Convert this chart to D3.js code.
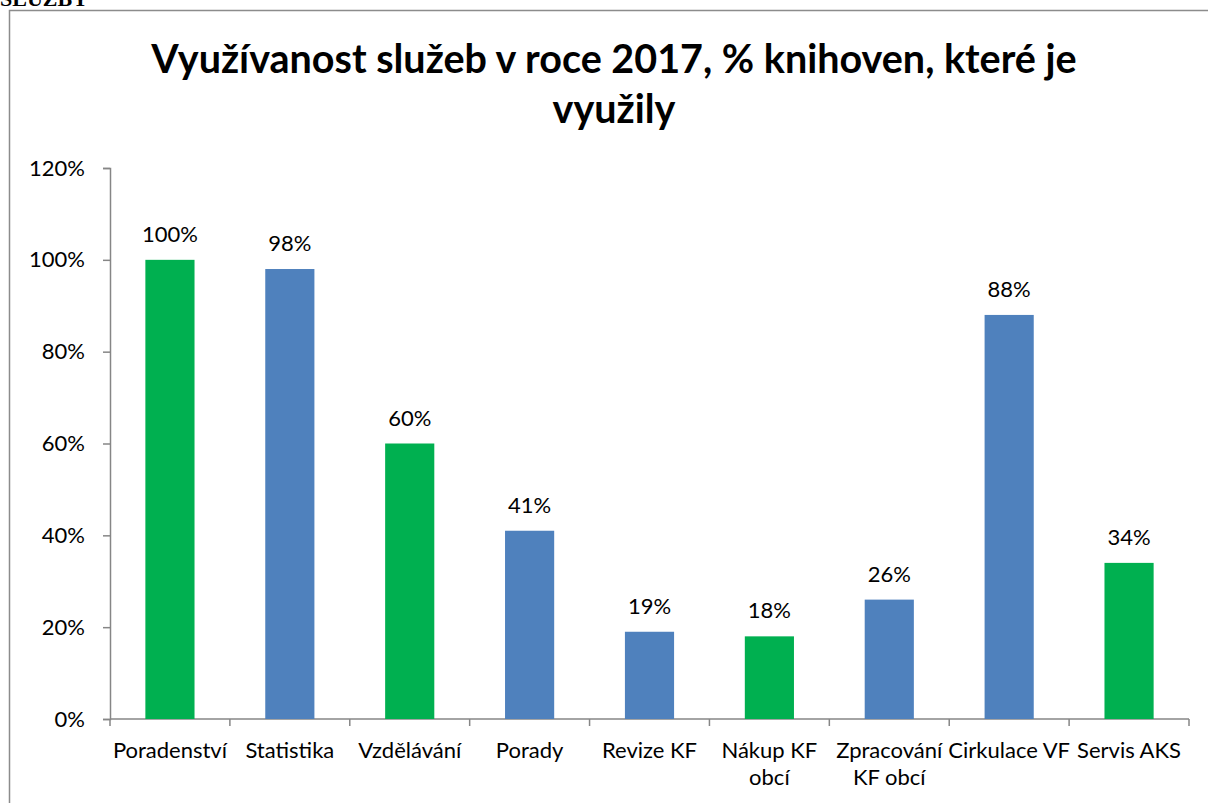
<!DOCTYPE html>
<html lang="cs">
<head>
<meta charset="utf-8">
<script src="https://d3js.org/d3.v7.min.js"></script>
<style>
  body { margin: 0; background: #fff; }
  svg { display: block; }
</style>
</head>
<body>
<svg id="chart" width="1208" height="803"></svg>
<script>
// data
var categories = ['Poradenství', 'Statistika', 'Vzdělávání', 'Porady', 'Revize KF',
  'Nákup KF obcí', 'Zpracování KF obcí', 'Cirkulace VF', 'Servis AKS'];
var values = [100, 98, 60, 41, 19, 18, 26, 88, 34];
var groups = ['g', 'b', 'g', 'b', 'b', 'g', 'b', 'b', 'g'];
var yTicks = [0, 20, 40, 60, 80, 100, 120];
var titleLines = ['Využívanost služeb v roce 2017, % knihoven, které je', 'využily'];

var colors = { g: '#00B050', b: '#4F81BD' };
var font = 'Lato, "Open Sans", sans-serif';

var svg = d3.select('#chart');

// stray heading cut at the top of the page
svg.append('text')
  .attr('x', 0).attr('y', 6)
  .style('font-family', '"Liberation Serif", serif')
  .style('font-weight', 'bold')
  .style('font-size', '22px')
  .text('SLUŽBY');

// chart frame (runs off the right and bottom edge)
svg.append('rect')
  .attr('x', 9.5).attr('y', 10.5)
  .attr('width', 1230).attr('height', 830)
  .attr('fill', 'none')
  .attr('stroke', '#8c8c8c')
  .attr('stroke-width', 1.5);

// title
svg.append('text')
  .attr('text-anchor', 'middle')
  .style('font-family', font)
  .style('font-weight', 'bold')
  .style('font-size', '39.5px')
  .selectAll('tspan')
  .data(titleLines)
  .enter()
  .append('tspan')
  .attr('x', 614)
  .attr('y', function(d, i) { return 73 + i * 50; })
  .text(function(d) { return d; });

var x = d3.scaleBand()
  .domain(categories)
  .range([110, 1189])
  .paddingInner(0.59)
  .paddingOuter(0.295);

var y = d3.scaleLinear()
  .domain([0, 120])
  .range([719, 168]);

// y axis
var gy = svg.append('g')
  .attr('transform', 'translate(110,0)')
  .call(d3.axisLeft(y).tickValues(yTicks).tickSize(7).tickPadding(18)
    .tickFormat(function(d) { return d + '%'; }));
gy.selectAll('path, line').attr('stroke', '#868686').attr('stroke-width', 1.5);
gy.selectAll('text')
  .style('font-family', font)
  .style('font-size', '22px')
  .attr('fill', '#000');

// x axis: ticks between categories
var gx = svg.append('g').attr('transform', 'translate(0,719)');
gx.append('line')
  .attr('x1', 110).attr('x2', 1189)
  .attr('stroke', '#868686').attr('stroke-width', 1.5);
gx.selectAll('.xt')
  .data(d3.range(categories.length + 1))
  .enter()
  .append('line')
  .attr('x1', function(i) { return 110 + i * x.step(); })
  .attr('x2', function(i) { return 110 + i * x.step(); })
  .attr('y1', 0).attr('y2', 7)
  .attr('stroke', '#868686').attr('stroke-width', 1.5);

// category labels, wrapped like the original
var wrapped = {
  'Nákup KF obcí': ['Nákup KF', 'obcí'],
  'Zpracování KF obcí': ['Zpracování', 'KF obcí']
};
gx.selectAll('.xl')
  .data(categories)
  .enter()
  .append('text')
  .attr('text-anchor', 'middle')
  .style('font-family', font)
  .style('font-size', '22px')
  .attr('fill', '#000')
  .each(function(d) {
    var lines = wrapped[d] || [d];
    var cx = x(d) + x.bandwidth() / 2;
    d3.select(this).selectAll('tspan')
      .data(lines)
      .enter()
      .append('tspan')
      .attr('x', cx)
      .attr('y', function(l, i) { return 39 + i * 27; })
      .text(function(l) { return l; });
  });

// bars
svg.selectAll('.bar')
  .data(categories)
  .enter()
  .append('rect')
  .attr('x', function(d) { return x(d); })
  .attr('y', function(d, i) { return y(values[i]); })
  .attr('width', x.bandwidth())
  .attr('height', function(d, i) { return y(0) - y(values[i]); })
  .attr('fill', function(d, i) { return colors[groups[i]]; });

// value labels
svg.selectAll('.val')
  .data(categories)
  .enter()
  .append('text')
  .attr('text-anchor', 'middle')
  .attr('x', function(d) { return x(d) + x.bandwidth() / 2; })
  .attr('y', function(d, i) { return y(values[i]) - 18; })
  .style('font-family', font)
  .style('font-size', '22px')
  .attr('fill', '#000')
  .text(function(d, i) { return values[i] + '%'; });
</script>
</body>
</html>
